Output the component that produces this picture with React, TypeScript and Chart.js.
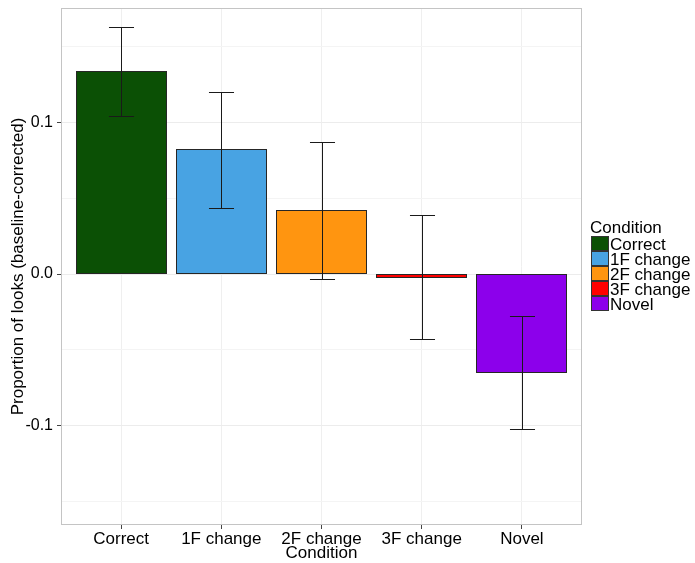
import React, { useEffect, useRef } from 'react';
import { Chart, registerables } from 'chart.js';

Chart.register(...registerables);

const categories = ['Correct', '1F change', '2F change', '3F change', 'Novel'];
const means = [0.1336, 0.082, 0.0422, -0.002, -0.065];
const lower = [0.104, 0.0436, -0.003, -0.043, -0.1025];
const upper = [0.163, 0.12, 0.087, 0.0389, -0.0277];
const yTickValues = [-0.15, -0.1, -0.05, 0, 0.05, 0.1, 0.15];
const palette = ['#0b5005', '#48a3e3', '#ff9510', '#ff0000', '#8c00eb'];
const legendTitle = 'Condition';
const xTitle = 'Condition';
const yTitle = 'Proportion of looks (baseline-corrected)';

const FONT = "'Liberation Sans', Arial, sans-serif";

const isMajor = (v: number) => Math.abs(Math.round(v * 10) - v * 10) < 1e-6;

const panelPlugin = {
  id: 'panelBorderAndErrors',
  afterDatasetsDraw(chart: any) {
    const { ctx, chartArea, scales } = chart;
    const xs = scales.x;
    const ys = scales.y;
    ctx.save();
    // bar outlines (on the edge pixels of each bar)
    const meta = chart.getDatasetMeta(0);
    ctx.strokeStyle = '#262626';
    ctx.lineWidth = 1;
    meta.data.forEach((bar: any) => {
      const { x, y, base, width } = bar.getProps(['x', 'y', 'base', 'width'], true);
      const l = Math.floor(x - width / 2) + 0.5;
      const r = Math.ceil(x + width / 2) - 0.5;
      const t = Math.floor(Math.min(y, base)) + 0.5;
      const b = Math.ceil(Math.max(y, base)) - 0.5;
      ctx.strokeRect(l, t, r - l, Math.max(b - t, 1));
    });
    // error bars
    ctx.strokeStyle = '#1a1a1a';
    ctx.lineWidth = 1;
    for (let i = 0; i < categories.length; i++) {
      const x = Math.round(xs.getPixelForValue(i + 1)) + 0.5;
      const y1 = Math.round(ys.getPixelForValue(upper[i])) + 0.5;
      const y2 = Math.round(ys.getPixelForValue(lower[i])) + 0.5;
      const half = xs.getPixelForValue(1.125) - xs.getPixelForValue(1);
      ctx.beginPath();
      ctx.moveTo(x, y1);
      ctx.lineTo(x, y2);
      ctx.moveTo(x - half, y1);
      ctx.lineTo(x + half, y1);
      ctx.moveTo(x - half, y2);
      ctx.lineTo(x + half, y2);
      ctx.stroke();
    }
    // panel border
    ctx.strokeStyle = '#c4c4c4';
    ctx.lineWidth = 1;
    ctx.strokeRect(
      Math.round(chartArea.left) + 0.5,
      Math.round(chartArea.top) + 0.5,
      Math.round(chartArea.right - chartArea.left) - 1,
      Math.round(chartArea.bottom - chartArea.top) - 1
    );
    ctx.restore();
  },
  afterDraw(chart: any) {
    const { ctx } = chart;
    ctx.save();
    ctx.font = `17px ${FONT}`;
    ctx.fillStyle = '#000';
    ctx.textBaseline = 'alphabetic';
    ctx.textAlign = 'left';
    ctx.fillText(legendTitle, 590, 233);
    const top = 236;
    const h = 15;
    for (let i = 0; i < categories.length; i++) {
      const y = top + i * h;
      ctx.fillStyle = palette[i];
      ctx.fillRect(591, y, 18, h);
      ctx.strokeStyle = '#333';
      ctx.lineWidth = 1;
      ctx.strokeRect(591.5, y + 0.5, 17, h - 1);
      ctx.fillStyle = '#000';
      ctx.fillText(categories[i], 610, y + h / 2 + 6);
    }
    ctx.restore();
  },
};

export default function App() {
  const ref = useRef<HTMLCanvasElement>(null);

  useEffect(() => {
    if (!ref.current) return;
    Chart.defaults.font.family = FONT;
    const chart = new Chart(ref.current, {
      type: 'bar',
      data: {
        datasets: [
          {
            label: 'Condition',
            data: means.map((v, i) => ({ x: i + 1, y: v })),
            backgroundColor: palette,
            borderWidth: 0,
            barPercentage: 0.9,
            categoryPercentage: 1,
          } as any,
        ],
      },
      options: {
        animation: false,
        responsive: false,
        maintainAspectRatio: false,
        layout: { padding: { top: 8, right: 113, left: 0, bottom: 0 } },
        plugins: {
          legend: { display: false },
          tooltip: { enabled: false },
        },
        scales: {
          x: {
            type: 'linear',
            min: 0.4,
            max: 5.6,
            offset: false,
            afterBuildTicks: (axis: any) => {
              axis.ticks = categories.map((_, i) => ({ value: i + 1 }));
            },
            afterFit: (axis: any) => {
              axis.height = 38;
              axis.paddingLeft = 0;
              axis.paddingRight = 0;
            },
            ticks: {
              autoSkip: false,
              maxRotation: 0,
              minRotation: 0,
              padding: 0,
              color: '#000',
              font: { size: 17 },
              callback: (v: any) => categories[Math.round(Number(v)) - 1] ?? '',
            },
            grid: {
              offset: false,
              color: '#efefef',
              lineWidth: 1,
              tickLength: 4,
              tickColor: '#444',
            },
            border: { display: false },
            title: {
              display: true,
              text: xTitle,
              color: '#000',
              font: { size: 17 },
              padding: { top: 0, bottom: -1 },
            },
          },
          y: {
            type: 'linear',
            min: -0.1655,
            max: 0.1754,
            afterBuildTicks: (axis: any) => {
              axis.ticks = yTickValues.map((v) => ({ value: v }));
            },
            afterFit: (axis: any) => {
              axis.width = 61;
              axis.paddingTop = 0;
              axis.paddingBottom = 0;
            },
            ticks: {
              padding: 4,
              color: '#000',
              font: { size: 16 },
              callback: (v: any) => (isMajor(Number(v)) ? Number(v).toFixed(1) : ''),
            },
            grid: {
              color: (c: any) => (c.tick && isMajor(c.tick.value) ? '#ececec' : '#f4f4f4'),
              lineWidth: 1,
              tickLength: 4,
              tickColor: (c: any) => (c.tick && isMajor(c.tick.value) ? '#444' : 'rgba(0,0,0,0)'),
            },
            border: { display: false },
            title: {
              display: true,
              text: yTitle,
              color: '#000',
              font: { size: 17 },
              padding: { top: 8, bottom: 0 },
            },
          },
        },
      },
      plugins: [panelPlugin],
    } as any);
    return () => chart.destroy();
  }, []);

  return (
    <div style={{ position: 'absolute', left: 0, top: 0, width: 695, height: 563, background: '#fff' }}>
      <canvas ref={ref} width={695} height={563} style={{ width: 695, height: 563, display: 'block' }} />
    </div>
  );
}
